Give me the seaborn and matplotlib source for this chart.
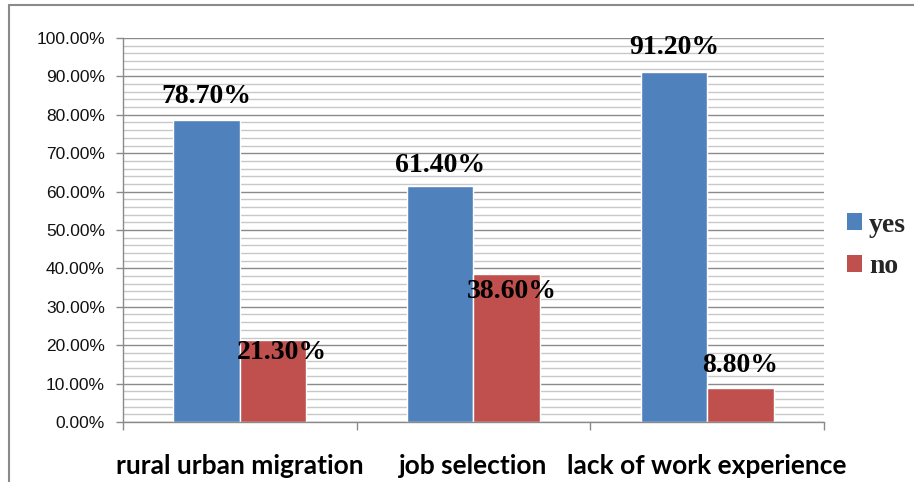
import matplotlib
matplotlib.use("Agg")
import matplotlib.pyplot as plt
from matplotlib.lines import Line2D
from matplotlib.ticker import MultipleLocator, FuncFormatter, FixedLocator
import seaborn as sns
import pandas as pd

# Survey results (percent of respondents)
categories = ["rural urban migration", "job selection", "lack of work experience"]
responses = ["yes", "no"]
yes_values = [78.7, 61.4, 91.2]
no_values = [21.3, 38.6, 8.8]

colors = ["#4F81BD", "#C0504D"]

# label nudges in pixels (dx, dy) relative to each bar's top centre
label_offsets = {
    "yes": [(0, 23), (0, 21), (0, 24)],
    "no": [(9, -12), (5, -18), (0, 23)],
}

df = pd.DataFrame({
    "category": categories * 2,
    "response": ["yes"] * 3 + ["no"] * 3,
    "value": yes_values + no_values,
})

sns.set_theme(style="white")
plt.rcParams["font.family"] = ["Liberation Sans", "DejaVu Sans"]

fig = plt.figure(figsize=(9.14, 4.82), dpi=100)
ax = fig.add_axes([123 / 914, 1 - 422 / 482, (824 - 123) / 914, (422 - 38) / 482])

sns.barplot(data=df, x="category", y="value", hue="response",
            order=categories, hue_order=responses, palette=colors,
            width=0.57, saturation=1, errorbar=None, ax=ax)

ax.set_xlim(-0.5, 2.5)
ax.set_ylim(0, 100)
ax.set_xlabel("")
ax.set_ylabel("")

# gridlines: heavy every 10 %, light every 2 %
ax.yaxis.set_major_locator(MultipleLocator(10))
ax.yaxis.set_minor_locator(MultipleLocator(2))
ax.yaxis.set_major_formatter(FuncFormatter(lambda v, _: f"{v:.2f}%"))
ax.set_axisbelow(True)
ax.grid(axis="y", which="major", color="#8a8a8a", linewidth=1.0)
ax.grid(axis="y", which="minor", color="#c8c8c8", linewidth=1.0)
ax.grid(axis="x", visible=False)

for side in ("top", "right"):
    ax.spines[side].set_visible(False)
for side in ("left", "bottom"):
    ax.spines[side].set_color("#8a8a8a")
    ax.spines[side].set_linewidth(1.0)

ax.tick_params(axis="y", which="major", direction="out", length=5, width=1,
               color="#8a8a8a", pad=8, labelsize=12.5, labelcolor="#111111", left=True)
ax.tick_params(axis="y", which="minor", length=0)

# category labels centred, tick marks on group boundaries
ax.xaxis.set_major_locator(FixedLocator([0, 1, 2]))
ax.set_xticklabels(categories, fontfamily="Lato", fontweight="bold", fontsize=19)
ax.xaxis.set_minor_locator(FixedLocator([-0.5, 0.5, 1.5, 2.5]))
ax.tick_params(axis="x", which="major", length=0, pad=23, labelcolor="#000000")
ax.tick_params(axis="x", which="minor", direction="out", length=6, width=1,
               color="#8a8a8a", bottom=True)

# value labels
for container, resp in zip(ax.containers, responses):
    for bar, (dx, dy) in zip(container, label_offsets[resp]):
        h = bar.get_height()
        ax.annotate(f"{h:.2f}%", xy=(bar.get_x() + bar.get_width() / 2, h),
                    xytext=(dx, dy), textcoords="offset pixels",
                    ha="center", va="center", fontsize=20, fontweight="bold",
                    fontfamily="Liberation Serif", color="#000000")

# legend to the right of the plot
handles = [plt.Rectangle((0, 0), 1, 1, facecolor=c, edgecolor="none") for c in colors]
leg = ax.legend(handles, responses, loc="center left",
                bbox_to_anchor=(847 / 914, 1 - 246 / 482),
                bbox_transform=fig.transFigure, frameon=False,
                prop={"family": "Liberation Serif", "weight": "bold", "size": 20},
                handlelength=0.55, handleheight=0.55, handletextpad=0.25,
                labelspacing=0.6, borderpad=0, borderaxespad=0)

# chart-area border along the top and left
fig.add_artist(Line2D([9 / 914, 1.0], [1 - 5 / 482, 1 - 5 / 482],
                      transform=fig.transFigure, color="#8a8a8a", linewidth=1.5))
fig.add_artist(Line2D([9 / 914, 9 / 914], [0.0, 1 - 5 / 482],
                      transform=fig.transFigure, color="#8a8a8a", linewidth=1.5))

fig.savefig("out.png", dpi=100, facecolor="white")
